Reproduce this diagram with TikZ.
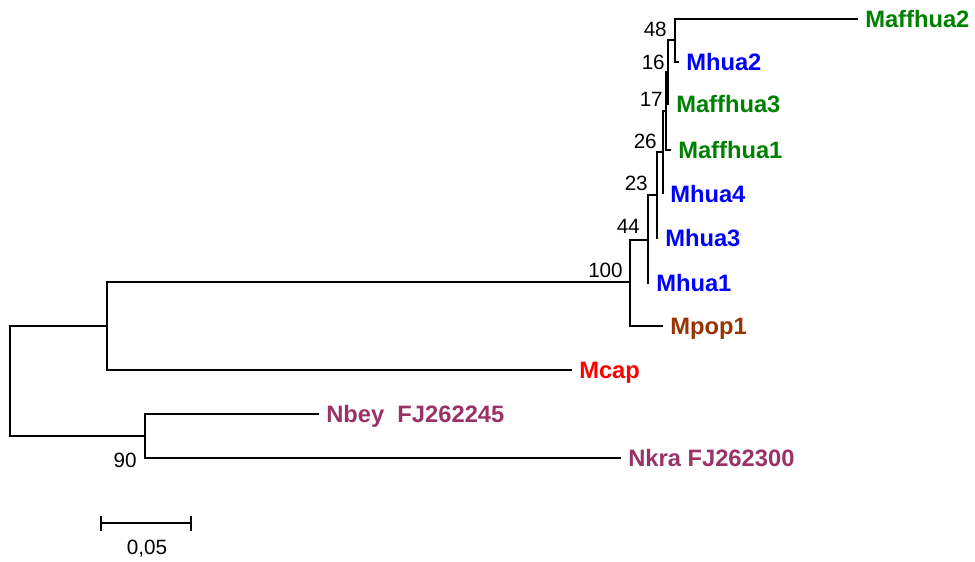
\documentclass[tikz,border=0pt]{standalone}
\usepackage{fontspec}
\setmainfont{Liberation Sans}
\usetikzlibrary{calc}
\definecolor{cgreen}{RGB}{0,128,0}
\definecolor{cblue}{RGB}{0,0,255}
\definecolor{cbrown}{RGB}{153,51,0}
\definecolor{cred}{RGB}{255,0,0}
\definecolor{cplum}{RGB}{153,51,102}
\begin{document}
\begin{tikzpicture}[x=0.75pt,y=-0.75pt,
  branch/.style={line width=1.1pt},
  taxon/.style={anchor=base west, inner sep=0pt, font=\fontsize{17.8}{20}\selectfont\bfseries, xshift=5.25pt, yshift=-6pt},
  boot/.style={anchor=base east, inner sep=0pt, font=\fontsize{15.5}{18}\selectfont}]
\useasboundingbox (0,0) rectangle (975,561);
% internal nodes
\coordinate (root) at (10,381);
\coordinate (nA) at (107,326);
\coordinate (n90) at (145,436);
\coordinate (n100) at (630,282);
\coordinate (n44) at (648,240);
\coordinate (n23) at (657,195);
\coordinate (n26) at (663,152);
\coordinate (n17) at (666,111);
\coordinate (n16) at (668,72);
\coordinate (n48) at (675,40);
% leaf tips
\coordinate (tMaffhua2) at (858,19);
\coordinate (tMhua2) at (679,62);
\coordinate (tMaffhua3) at (669,104);
\coordinate (tMaffhua1) at (671,150);
\coordinate (tMhua4) at (663,194);
\coordinate (tMhua3) at (658,238);
\coordinate (tMhua1) at (649,283);
\coordinate (tMpop1) at (663,326);
\coordinate (tMcap) at (572,370);
\coordinate (tNbey) at (319,414);
\coordinate (tNkra) at (621,458);
% branches
\draw[branch] (tMaffhua2) -| (n48) |- (tMhua2);
\draw[branch] (n48) -| (n16) |- (tMaffhua3);
\draw[branch] (n16) -| (n17) |- (tMaffhua1);
\draw[branch] (n17) -| (n26) |- (tMhua4);
\draw[branch] (n26) -| (n23) |- (tMhua3);
\draw[branch] (n23) -| (n44) |- (tMhua1);
\draw[branch] (n44) -| (n100) |- (tMpop1);
\draw[branch] (n100) -| (nA) |- (tMcap);
\draw[branch] (tNbey) -| (n90) |- (tNkra);
\draw[branch] (nA) -| (root) |- (n90);
% taxon labels
\node[taxon, text=cgreen] (lMaffhua2) at (tMaffhua2) {Maffhua2};
\node[taxon, text=cblue] (lMhua2) at (tMhua2) {Mhua2};
\node[taxon, text=cgreen] (lMaffhua3) at (tMaffhua3) {Maffhua3};
\node[taxon, text=cgreen] (lMaffhua1) at (tMaffhua1) {Maffhua1};
\node[taxon, text=cblue] (lMhua4) at (tMhua4) {Mhua4};
\node[taxon, text=cblue] (lMhua3) at (tMhua3) {Mhua3};
\node[taxon, text=cblue] (lMhua1) at (tMhua1) {Mhua1};
\node[taxon, text=cbrown] (lMpop1) at (tMpop1) {Mpop1};
\node[taxon, text=cred] (lMcap) at (tMcap) {Mcap};
\node[taxon, text=cplum] (lNbey) at (tNbey) {Nbey\ \ FJ262245};
\node[taxon, text=cplum] (lNkra) at (tNkra) {Nkra FJ262300};
% bootstrap values
\node[boot] (b48) at ($(n48)+(-8,-4)$) {48};
\node[boot] (b16) at ($(n16)+(-3,-3)$) {16};
\node[boot] (b17) at ($(n17)+(-3,-5)$) {17};
\node[boot] (b26) at ($(n26)+(-6,-4)$) {26};
\node[boot] (b23) at ($(n23)+(-9,-5)$) {23};
\node[boot] (b44) at ($(n44)+(-8,-7)$) {44};
\node[boot] (b100) at ($(n100)+(-7,-5)$) {100};
\node[boot] (b90) at ($(n90)+(-8,31)$) {90};
% scale bar
\coordinate (sbL) at (101,523);
\coordinate (sbR) at (191,523);
\draw[branch] (sbL) -- (sbR);
\draw[branch] ($(sbL)+(0,-7.5)$) -- ($(sbL)+(0,7.5)$);
\draw[branch] ($(sbR)+(0,-7.5)$) -- ($(sbR)+(0,7.5)$);
\node[anchor=base, inner sep=0pt, font=\fontsize{15.5}{18}\selectfont] (sblabel) at (147,554) {0,05};
\end{tikzpicture}
\end{document}
